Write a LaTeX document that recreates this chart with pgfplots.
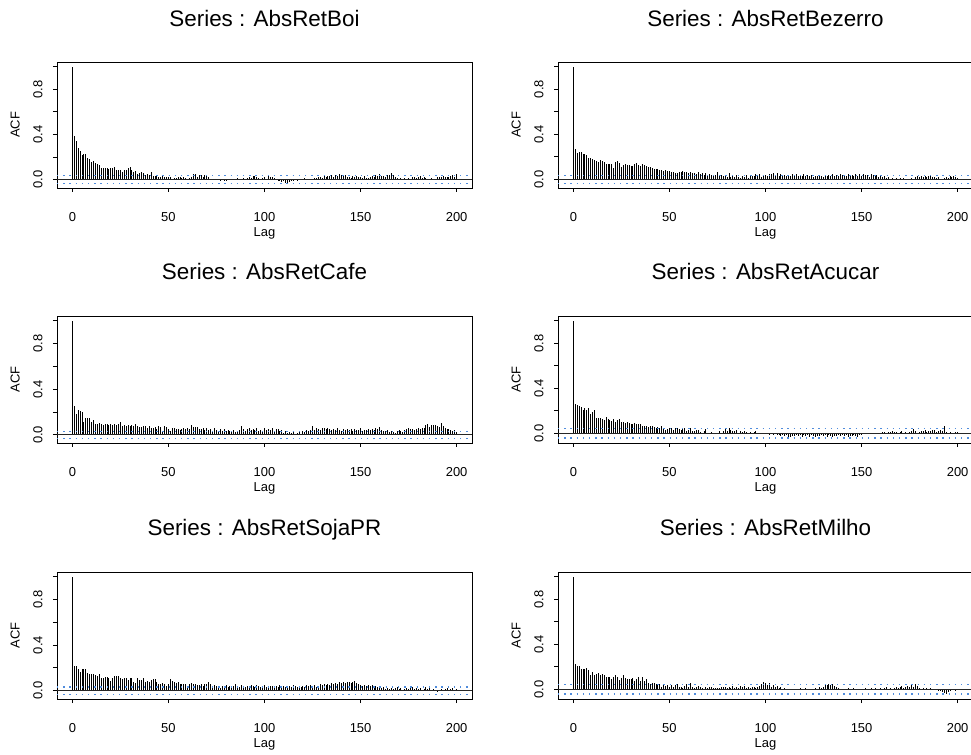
\documentclass[border=0pt]{standalone}
\usepackage{pgfplots}
\pgfplotsset{compat=1.18}
\usepackage{pgfplotstable}
\usepackage{fontspec}
\setmainfont{Liberation Sans}
\definecolor{ciblue}{RGB}{80,140,220}

\pgfplotstableread{
lag boi bez cafe acu soja milho
0 1.000 1.000 1.000 1.000 1.000 1.000
1 0.387 0.270 0.250 0.263 0.217 0.220
2 0.343 0.235 0.185 0.251 0.217 0.208
3 0.276 0.246 0.218 0.245 0.194 0.208
4 0.255 0.246 0.212 0.233 0.165 0.178
5 0.217 0.229 0.203 0.203 0.188 0.178
6 0.226 0.229 0.115 0.227 0.188 0.178
7 0.223 0.217 0.144 0.209 0.188 0.190
8 0.188 0.194 0.144 0.221 0.159 0.172
9 0.185 0.190 0.144 0.167 0.148 0.125
10 0.158 0.180 0.109 0.185 0.148 0.154
11 0.161 0.176 0.132 0.203 0.148 0.130
12 0.147 0.164 0.097 0.137 0.136 0.136
13 0.141 0.152 0.097 0.131 0.125 0.148
14 0.130 0.176 0.103 0.131 0.148 0.125
15 0.106 0.164 0.091 0.125 0.107 0.136
16 0.106 0.158 0.085 0.119 0.113 0.125
17 0.100 0.140 0.097 0.143 0.119 0.107
18 0.106 0.135 0.097 0.125 0.119 0.113
19 0.094 0.135 0.085 0.119 0.113 0.113
20 0.106 0.135 0.091 0.107 0.084 0.095
21 0.100 0.100 0.085 0.125 0.107 0.113
22 0.111 0.152 0.091 0.101 0.130 0.130
23 0.088 0.164 0.085 0.119 0.125 0.113
24 0.085 0.147 0.097 0.125 0.125 0.083
25 0.088 0.111 0.109 0.101 0.113 0.101
26 0.070 0.129 0.074 0.096 0.101 0.125
27 0.082 0.140 0.085 0.090 0.113 0.101
28 0.082 0.132 0.079 0.101 0.113 0.095
29 0.106 0.129 0.085 0.090 0.096 0.095
30 0.111 0.123 0.079 0.084 0.107 0.089
31 0.088 0.117 0.085 0.078 0.113 0.101
32 0.067 0.135 0.074 0.090 0.078 0.077
33 0.076 0.147 0.091 0.078 0.067 0.095
34 0.053 0.129 0.074 0.078 0.107 0.107
35 0.059 0.123 0.068 0.084 0.096 0.077
36 0.070 0.140 0.068 0.066 0.096 0.113
37 0.059 0.129 0.079 0.060 0.107 0.071
38 0.041 0.117 0.079 0.066 0.078 0.089
39 0.047 0.111 0.062 0.054 0.084 0.059
40 0.038 0.106 0.074 0.060 0.078 0.042
41 0.065 0.100 0.062 0.060 0.090 0.059
42 0.035 0.088 0.056 0.054 0.101 0.053
43 0.030 0.088 0.068 0.048 0.101 0.047
44 0.032 0.094 0.050 0.054 0.078 0.042
45 0.023 0.082 0.074 0.048 0.055 0.047
46 0.023 0.082 0.068 0.060 0.055 0.024
47 0.030 0.076 0.038 0.048 0.067 0.036
48 0.018 0.082 0.074 0.030 0.055 0.030
49 0.023 0.076 0.068 0.036 0.043 0.036
50 0.018 0.076 0.050 0.042 0.061 0.024
51 0.018 0.070 0.038 0.042 0.101 0.036
52 0.006 0.065 0.062 0.030 0.084 0.024
53 0.015 0.053 0.056 0.048 0.072 0.036
54 0.012 0.059 0.050 0.042 0.067 0.042
55 0.018 0.070 0.050 0.036 0.072 0.024
56 0.026 0.065 0.044 0.030 0.061 0.024
57 0.015 0.073 0.050 0.036 0.061 0.012
58 0.018 0.065 0.056 0.048 0.061 0.030
59 0.012 0.067 0.050 0.024 0.055 0.047
60 0.006 0.056 0.062 0.030 0.038 0.018
61 0.012 0.065 0.050 0.048 0.061 0.059
62 0.023 0.059 0.085 0.024 0.067 0.018
63 0.047 0.053 0.068 0.018 0.055 0.012
64 0.047 0.044 0.068 0.030 0.055 0.024
65 0.023 0.062 0.068 0.030 0.049 0.030
66 0.041 0.050 0.050 0.012 0.049 0.018
67 0.044 0.056 0.050 0.006 0.061 0.012
68 0.026 0.041 0.056 0.018 0.038 0.006
69 0.038 0.059 0.040 0.036 0.055 0.018
70 0.038 0.041 0.058 0.006 0.055 0.012
71 0.018 0.047 0.046 0.006 0.078 0.018
72 0.006 0.041 0.054 0.012 0.055 0.024
73 0.006 0.035 0.036 0.006 0.038 0.012
74 0.003 0.041 0.060 -0.006 0.049 0.012
75 0.009 0.065 0.042 0.006 0.043 0.012
76 0.003 0.035 0.030 0.018 0.043 0.012
77 -0.003 0.041 0.050 0.006 0.026 0.024
78 0.006 0.030 0.038 0.018 0.043 0.018
79 -0.012 0.041 0.048 0.048 0.038 0.018
80 -0.003 0.024 0.034 0.024 0.049 0.012
81 0.004 0.053 0.044 0.042 0.036 0.020
82 0.002 0.024 0.030 0.030 0.044 0.008
83 0.008 0.030 0.024 0.018 0.030 0.028
84 0.005 0.018 0.040 0.018 0.040 0.014
85 0.003 0.041 0.028 0.030 0.062 0.022
86 0.010 0.024 0.036 0.006 0.042 0.010
87 0.006 0.012 0.046 0.024 0.034 0.030
88 0.004 0.030 0.076 0.012 0.048 0.018
89 0.012 0.020 0.048 0.018 0.038 0.026
90 0.009 0.038 0.038 0.012 0.030 0.012
91 0.015 0.016 0.052 0.004 0.044 0.020
92 0.020 0.042 0.060 0.010 0.036 0.008
93 0.012 0.028 0.046 0.002 0.050 0.016
94 0.028 0.034 0.054 0.008 0.040 0.024
95 0.030 0.046 0.040 0.016 0.032 0.010
96 0.018 0.030 0.058 0.004 0.046 0.018
97 0.010 0.050 0.036 -0.004 0.038 0.030
98 0.006 0.024 0.044 0.006 0.028 0.048
99 0.014 0.036 0.030 -0.002 0.042 0.066
100 0.018 0.040 0.060 -0.008 0.050 0.058
101 0.008 0.030 0.046 -0.004 0.036 0.040
102 0.030 0.052 0.052 -0.012 0.030 0.052
103 0.022 0.044 0.040 -0.006 0.044 0.024
104 0.024 0.058 0.056 -0.016 0.038 0.034
105 0.012 0.040 0.036 -0.010 0.026 0.018
106 0.004 0.054 0.048 -0.020 0.040 0.028
107 -0.006 0.034 0.054 -0.014 0.034 0.012
108 -0.012 0.046 0.030 -0.024 0.046 0.020
109 -0.020 0.038 0.042 -0.018 0.030 0.004
110 -0.008 0.042 0.020 -0.026 0.040 0.010
111 -0.028 0.026 0.034 -0.020 0.028 -0.004
112 -0.034 0.040 0.018 -0.030 0.036 0.006
113 -0.018 0.032 0.026 -0.036 0.044 -0.008
114 -0.010 0.044 0.014 -0.022 0.032 0.002
115 -0.004 0.036 0.022 -0.028 0.048 -0.006
116 0.002 0.050 0.010 -0.016 0.040 0.004
117 -0.006 0.030 0.016 -0.024 0.034 -0.002
118 0.004 0.042 0.024 -0.020 0.042 0.008
119 0.000 0.026 0.012 -0.030 0.030 -0.010
120 0.006 0.048 0.036 -0.014 0.044 0.002
121 0.010 0.030 0.028 -0.026 0.036 0.010
122 0.004 0.040 0.040 -0.020 0.048 -0.004
123 0.008 0.028 0.032 -0.030 0.040 0.006
124 0.002 0.036 0.044 -0.018 0.052 -0.008
125 0.005 0.024 0.076 -0.024 0.038 0.004
126 0.010 0.034 0.040 -0.032 0.046 0.012
127 0.016 0.030 0.060 -0.022 0.034 0.000
128 0.022 0.026 0.052 -0.028 0.044 0.016
129 0.018 0.032 0.046 -0.016 0.056 0.008
130 0.012 0.022 0.064 -0.026 0.048 0.024
131 0.028 0.036 0.056 -0.020 0.058 0.034
132 0.020 0.028 0.048 -0.030 0.052 0.040
133 0.034 0.040 0.058 -0.018 0.062 0.046
134 0.030 0.030 0.050 -0.024 0.054 0.036
135 0.038 0.046 0.042 -0.034 0.066 0.042
136 0.026 0.034 0.052 -0.022 0.058 0.030
137 0.040 0.042 0.040 -0.028 0.070 0.018
138 0.032 0.030 0.056 -0.018 0.060 0.010
139 0.045 0.044 0.046 -0.024 0.074 0.004
140 0.038 0.036 0.038 -0.016 0.064 -0.004
141 0.030 0.040 0.050 -0.026 0.078 0.006
142 0.042 0.028 0.044 -0.020 0.068 -0.002
143 0.024 0.046 0.054 -0.030 0.074 0.008
144 0.020 0.032 0.040 -0.022 0.080 -0.006
145 0.016 0.040 0.048 -0.026 0.066 0.004
146 0.030 0.026 0.036 -0.018 0.072 0.010
147 0.022 0.048 0.052 -0.024 0.088 -0.004
148 0.034 0.034 0.044 -0.030 0.064 0.002
149 0.018 0.044 0.040 -0.020 0.058 -0.010
150 0.026 0.030 0.056 -0.012 0.052 0.006
151 0.014 0.050 0.032 -0.006 0.044 0.000
152 0.028 0.036 0.046 -0.010 0.048 0.008
153 0.010 0.042 0.040 -0.002 0.038 -0.006
154 0.016 0.024 0.050 -0.008 0.050 0.004
155 0.022 0.052 0.042 0.002 0.042 0.010
156 0.030 0.036 0.054 -0.004 0.046 0.002
157 0.026 0.030 0.046 0.004 0.036 0.008
158 0.040 0.040 0.060 0.000 0.040 -0.002
159 0.034 0.024 0.050 0.006 0.028 0.006
160 0.046 0.034 0.068 0.002 0.034 0.012
161 0.028 0.018 0.044 0.008 0.022 0.004
162 0.032 0.030 0.038 0.012 0.030 0.010
163 0.024 0.012 0.030 0.006 0.018 0.018
164 0.040 0.022 0.046 0.014 0.026 0.006
165 0.044 0.008 0.024 0.010 0.014 0.014
166 0.062 0.016 0.036 0.016 0.024 0.004
167 0.036 0.004 0.028 0.008 0.012 0.012
168 0.020 0.014 0.020 0.012 0.020 0.020
169 0.012 0.006 0.032 0.004 0.030 0.008
170 0.008 0.010 0.040 0.010 0.016 0.016
171 0.016 0.002 0.034 0.018 0.024 0.026
172 0.004 0.012 0.026 0.006 0.010 0.012
173 0.010 0.006 0.044 0.014 0.018 0.022
174 0.002 -0.004 0.052 0.002 0.026 0.030
175 0.012 0.008 0.060 0.010 0.014 0.018
176 0.008 0.016 0.048 0.020 0.022 0.034
177 0.018 0.006 0.054 0.040 0.030 0.024
178 0.024 0.022 0.046 0.016 0.016 0.050
179 0.016 0.028 0.052 0.006 0.024 0.028
180 0.022 0.018 0.058 0.014 0.012 0.012
181 0.028 0.030 0.050 0.024 0.020 0.006
182 0.014 0.024 0.062 0.018 0.008 0.014
183 0.020 0.032 0.056 0.030 0.018 0.004
184 0.010 0.020 0.084 0.012 0.028 0.010
185 0.006 0.026 0.092 0.022 0.016 0.002
186 0.002 0.030 0.068 0.016 0.024 0.008
187 0.010 0.018 0.088 0.026 0.010 0.000
188 0.004 0.024 0.090 0.030 0.018 0.006
189 0.008 0.012 0.086 0.010 0.006 -0.004
190 0.018 0.020 0.074 0.020 -0.010 -0.012
191 0.026 0.008 0.070 0.028 0.008 -0.020
192 0.022 0.004 0.100 0.018 0.016 -0.028
193 0.030 0.014 0.082 0.060 0.004 -0.036
194 0.020 0.024 0.064 0.008 0.012 -0.042
195 0.026 0.010 0.054 0.004 0.020 -0.024
196 0.018 0.026 0.050 0.012 0.008 -0.016
197 0.032 0.018 0.040 0.002 0.014 -0.010
198 0.040 0.030 0.030 0.006 0.022 -0.006
199 0.024 0.022 0.044 0.014 0.010 -0.012
200 0.046 0.012 0.026 0.010 0.018 -0.004
}\acftable

\pgfplotsset{
  acfax/.style={
    scale only axis, width=415bp, height=127bp,
    xmin=-8, xmax=208,
    axis line style={line width=0.8bp},
    tick align=outside, tick pos=left,
    major tick length=4bp,
    tick style={black, line width=0.8bp},
    xtick={0,50,100,150,200},
    ytick={0,0.2,0.4,0.6,0.8,1},
    yticklabels={0.0,,0.4,,0.8,},
    /pgf/number format/assume math mode=true,
    ticklabel style={font=\fontsize{13}{15}\selectfont},
    yticklabel style={xshift=-7bp, rotate=90, anchor=south},
    xticklabel style={yshift=-17bp},
    xlabel={Lag}, ylabel={ACF},
    xlabel style={font=\fontsize{13}{15}\selectfont, at={(axis description cs:0.5,-0.36)}, anchor=center},
    ylabel style={font=\fontsize{13}{15}\selectfont, at={(axis description cs:-0.101,0.5)}, anchor=center},
    every axis title/.style={font=\fontsize{22.5}{26}\selectfont, at={(axis description cs:0.5,1.285)}, anchor=base},
  },
  bars/.style={ycomb, black, line width=0.9bp, mark=none},
  zero/.style={black!85, line width=1bp},
  ci/.style={ciblue, line width=1.4bp, dash pattern=on 1.4bp off 4.8bp},
}

\begin{document}
\begin{tikzpicture}
\path[use as bounding box] (0,0) rectangle (971bp,755bp);

% Row 1 left
\begin{axis}[acfax, at={(57bp,567bp)}, anchor=south west, height=126bp,
  ymin=-0.075, ymax=1.041, title={Series : AbsRetBoi}]
\addplot[bars] table[x=lag, y=boi] {\acftable};
\addplot[zero] coordinates {(-8,0) (208,0)};
\addplot[ci] coordinates {(-8,0.033) (208,0.033)};
\addplot[ci] coordinates {(-8,-0.033) (208,-0.033)};
\end{axis}

% Row 1 right
\begin{axis}[acfax, at={(558bp,567bp)}, anchor=south west, height=126bp,
  ymin=-0.076, ymax=1.041, title={Series : AbsRetBezerro}]
\addplot[bars] table[x=lag, y=bez] {\acftable};
\addplot[zero] coordinates {(-8,0) (208,0)};
\addplot[ci] coordinates {(-8,0.035) (208,0.035)};
\addplot[ci] coordinates {(-8,-0.035) (208,-0.035)};
\end{axis}

% Row 2 left
\begin{axis}[acfax, at={(57bp,312bp)}, anchor=south west,
  ymin=-0.071, ymax=1.041, title={Series : AbsRetCafe}]
\addplot[bars] table[x=lag, y=cafe] {\acftable};
\addplot[zero] coordinates {(-8,0) (208,0)};
\addplot[ci] coordinates {(-8,0.031) (208,0.031)};
\addplot[ci] coordinates {(-8,-0.031) (208,-0.031)};
\end{axis}

% Row 2 right
\begin{axis}[acfax, at={(558bp,312bp)}, anchor=south west,
  ymin=-0.087, ymax=1.042, title={Series : AbsRetAcucar}]
\addplot[bars] table[x=lag, y=acu] {\acftable};
\addplot[zero] coordinates {(-8,0) (208,0)};
\addplot[ci] coordinates {(-8,0.042) (208,0.042)};
\addplot[ci] coordinates {(-8,-0.042) (208,-0.042)};
\end{axis}

% Row 3 left
\begin{axis}[acfax, at={(57bp,56bp)}, anchor=south west,
  ymin=-0.073, ymax=1.041, title={Series : AbsRetSojaPR}]
\addplot[bars] table[x=lag, y=soja] {\acftable};
\addplot[zero] coordinates {(-8,0) (208,0)};
\addplot[ci] coordinates {(-8,0.032) (208,0.032)};
\addplot[ci] coordinates {(-8,-0.032) (208,-0.032)};
\end{axis}

% Row 3 right
\begin{axis}[acfax, at={(558bp,56bp)}, anchor=south west,
  ymin=-0.087, ymax=1.042, title={Series : AbsRetMilho}]
\addplot[bars] table[x=lag, y=milho] {\acftable};
\addplot[zero] coordinates {(-8,0) (208,0)};
\addplot[ci] coordinates {(-8,0.041) (208,0.041)};
\addplot[ci] coordinates {(-8,-0.041) (208,-0.041)};
\end{axis}
\end{tikzpicture}
\end{document}
